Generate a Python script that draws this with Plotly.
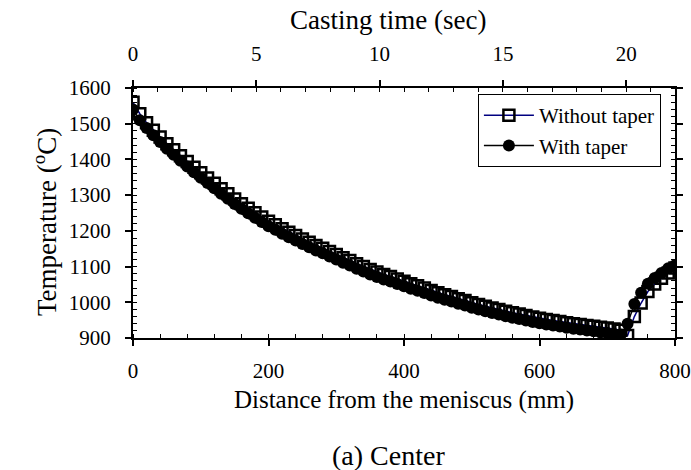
import plotly.graph_objects as go

# ---- data ----
distance_mm = [0, 10, 20, 30, 40, 50, 60, 70, 80, 90,
               100, 110, 120, 130, 140, 150, 160, 170, 180, 190,
               200, 210, 220, 230, 240, 250, 260, 270, 280, 290,
               300, 310, 320, 330, 340, 350, 360, 370, 380, 390,
               400, 410, 420, 430, 440, 450, 460, 470, 480, 490,
               500, 510, 520, 530, 540, 550, 560, 570, 580, 590,
               600, 610, 620, 630, 640, 650, 660, 670, 680, 690,
               700, 710, 720, 730, 740, 750, 760, 770, 780, 790, 800]

temp_without_taper = [1560, 1528, 1503, 1482, 1463, 1444, 1427, 1410, 1394, 1378,
                      1363, 1348, 1333, 1318, 1304, 1289, 1276, 1263, 1251, 1239,
                      1227, 1217, 1206, 1196, 1187, 1177, 1168, 1159, 1151, 1142,
                      1134, 1125, 1117, 1108, 1100, 1092, 1085, 1078, 1072, 1065,
                      1059, 1052, 1046, 1040, 1033, 1027, 1021, 1016, 1010, 1005,
                      999, 994, 989, 984, 980, 975, 971, 967, 963, 959,
                      955, 952, 949, 946, 943, 940, 938, 935, 933, 930,
                      928, 925, 922, 907, 960, 998, 1030, 1051, 1067, 1082, 1096]

temp_with_taper = [1540, 1510, 1488, 1468, 1449, 1430, 1413, 1396, 1380, 1364,
                   1349, 1334, 1319, 1304, 1290, 1275, 1262, 1249, 1237, 1225,
                   1213, 1203, 1192, 1182, 1173, 1163, 1154, 1145, 1137, 1128,
                   1120, 1111, 1103, 1094, 1086, 1078, 1071, 1064, 1058, 1051,
                   1045, 1038, 1032, 1026, 1019, 1013, 1007, 1002, 996, 991,
                   985, 980, 975, 970, 966, 961, 957, 953, 949, 945,
                   941, 938, 935, 932, 929, 926, 924, 921, 919, 916,
                   914, 911, 910, 940, 995, 1027, 1052, 1068, 1082, 1095, 1104]

x_range_mm = [0, 800]
casting_speed_mm_per_s = 36.4
time_ticks = [0, 5, 10, 15, 20]
y_ticks = [900, 1000, 1100, 1200, 1300, 1400, 1500, 1600]
x_ticks = [0, 200, 400, 600, 800]

FONT = "Liberation Serif"

fig = go.Figure()
fig.add_trace(go.Scatter(
    x=distance_mm, y=temp_without_taper, name="Without taper",
    mode="lines+markers",
    line=dict(color="#000080", width=1.5),
    marker=dict(symbol="square-open", size=11, color="black",
                line=dict(color="black", width=2.5)),
))
fig.add_trace(go.Scatter(
    x=distance_mm, y=temp_with_taper, name="With taper",
    mode="lines+markers",
    line=dict(color="black", width=1.5),
    marker=dict(symbol="circle", size=12, color="black"),
))
# invisible trace to activate the top (time) axis
fig.add_trace(go.Scatter(x=[0], y=[None], xaxis="x2", yaxis="y",
                         showlegend=False, hoverinfo="skip", mode="lines"))

time_range = [x_range_mm[0] / casting_speed_mm_per_s,
              x_range_mm[1] / casting_speed_mm_per_s]

axis_common = dict(
    showline=True, linecolor="black", linewidth=2,
    ticks="outside", ticklen=6, tickwidth=1.5, tickcolor="black",
    showgrid=False, zeroline=False, automargin=False,
    tickfont=dict(family=FONT, size=21, color="black"),
)

fig.update_layout(
    width=691, height=470,
    margin=dict(l=133, r=16, t=88, b=132),
    paper_bgcolor="white", plot_bgcolor="white",
    font=dict(family=FONT, color="black"),
    xaxis=dict(
        **axis_common,
        range=x_range_mm, tickvals=x_ticks, mirror=False,
        minor=dict(dtick=40, ticks="inside", ticklen=4, tickwidth=1, tickcolor="black"),
        ticklabelstandoff=7,
        title=dict(text="Distance from the meniscus (mm)",
                   font=dict(family=FONT, size=25, color="black"), standoff=8),
    ),
    xaxis2=dict(
        **axis_common,
        range=time_range, tickvals=time_ticks, overlaying="x", side="top",
        anchor="y",
        minor=dict(dtick=1, ticks="inside", ticklen=4, tickwidth=1, tickcolor="black"),
        ticklabelstandoff=11,
    ),
    yaxis=dict(
        **axis_common,
        range=[900, 1600], tickvals=y_ticks, mirror="ticks",
        minor=dict(dtick=20, ticks="inside", ticklen=4, tickwidth=1, tickcolor="black"),
        ticklabelstandoff=10,
    ),
    legend=dict(
        x=0.974, y=0.976, xanchor="right", yanchor="top",
        bgcolor="white", bordercolor="black", borderwidth=1,
        font=dict(family=FONT, size=21, color="black"),
        itemwidth=50, tracegroupgap=0,
    ),
    annotations=[
        dict(text="Casting time (sec)", xref="paper", yref="paper",
             x=(388 - 133) / 542, y=1 + (88 - 20) / 250,
             xanchor="center", yanchor="middle", showarrow=False,
             font=dict(family=FONT, size=27, color="black")),
        dict(text="Temperature (<sup>o</sup>C)", xref="paper", yref="paper",
             x=(45 - 133) / 542, y=(338 - 222) / 250, textangle=-90,
             xanchor="center", yanchor="middle", showarrow=False,
             font=dict(family=FONT, size=27, color="black")),
        dict(text="(a) Center", xref="paper", yref="paper",
             x=(388 - 133) / 542, y=-(455 - 338) / 250,
             xanchor="center", yanchor="middle", showarrow=False,
             font=dict(family=FONT, size=28, color="black")),
    ],
)

fig.write_html("out.html")
